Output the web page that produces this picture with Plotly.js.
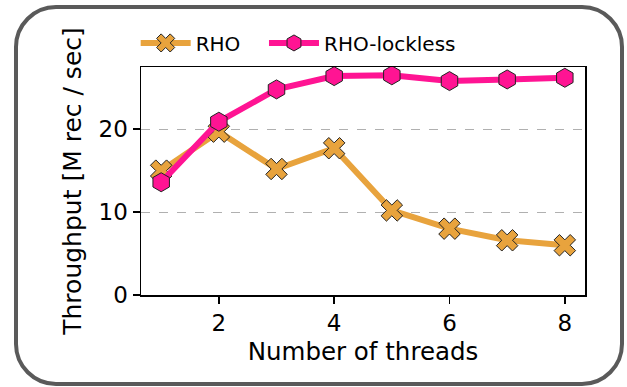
<!DOCTYPE html>
<html>
<head>
<meta charset="utf-8">
<script src="https://cdn.plot.ly/plotly-3.0.1.min.js"></script>
<style>
html,body{margin:0;padding:0;background:#fff;}
#wrap{position:relative;width:627px;height:387px;}
#frame{position:absolute;left:14px;top:5px;width:602px;height:373px;border:4px solid #5a5a5a;border-radius:42px;box-sizing:content-box;}
#chart{position:absolute;left:0;top:0;width:627px;height:387px;}
</style>
</head>
<body>
<div id="wrap"><div id="frame"></div><div id="chart"></div></div>
<script>
const threads = [1, 2, 3, 4, 5, 6, 7, 8];
const rho = [15.0, 19.7, 15.2, 17.7, 10.2, 8.0, 6.6, 6.0];
const rhoLockless = [13.6, 20.9, 24.8, 26.4, 26.5, 25.8, 26.0, 26.2];
const seriesNames = ['RHO', 'RHO-lockless'];
const xTicks = [2, 4, 6, 8];
const yTicks = [0, 10, 20];

const font = {family: 'DejaVu Sans, sans-serif', color: '#000'};

const traces = [
  {
    x: threads, y: rho, name: seriesNames[0], type: 'scatter', mode: 'lines+markers',
    line: {color: '#e8a33d', width: 6},
    marker: {symbol: 'x', size: 19, color: '#e8a33d', line: {color: '#222', width: 1}},
    legend: 'legend'
  },
  {
    x: threads, y: rhoLockless, name: seriesNames[1], type: 'scatter', mode: 'lines+markers',
    line: {color: '#ff1493', width: 6},
    marker: {symbol: 'hexagon', size: 19, color: '#ff1493', line: {color: '#222', width: 1}},
    legend: 'legend2'
  }
];

const legendBase = {orientation: 'h', y: 1.02, xanchor: 'left', yanchor: 'bottom',
  font: Object.assign({size: 20}, font), bgcolor: 'rgba(0,0,0,0)', itemwidth: 50};

const layout = {
  width: 627, height: 387,
  paper_bgcolor: 'rgba(0,0,0,0)', plot_bgcolor: 'rgba(0,0,0,0)',
  margin: {l: 141, r: 42, t: 67, b: 92},
  font: Object.assign({size: 23}, font),
  showlegend: true,
  legend: Object.assign({x: -0.012}, legendBase),
  legend2: Object.assign({x: 0.277}, legendBase),
  xaxis: {
    range: [0.65, 8.35], tickvals: xTicks, ticktext: xTicks.map(String),
    ticks: 'outside', ticklen: 7, tickwidth: 1.5, tickcolor: '#000',
    showline: true, linecolor: '#000', linewidth: 1.5, mirror: true,
    showgrid: false, zeroline: false,
    tickfont: Object.assign({size: 23}, font),
    title: {text: 'Number of threads', font: Object.assign({size: 24.5}, font), standoff: 8}
  },
  yaxis: {
    range: [0, 27.5], tickvals: yTicks, ticktext: yTicks.map(String),
    ticks: 'outside', ticklen: 7, tickwidth: 1.5, tickcolor: '#000',
    showline: true, linecolor: '#000', linewidth: 1.5, mirror: true,
    showgrid: true, gridcolor: '#b0b0b0', griddash: 'dash', gridwidth: 1,
    zeroline: false,
    tickfont: Object.assign({size: 23}, font),
    title: {text: 'Throughput [M rec / sec]', font: Object.assign({size: 25}, font), standoff: 10}
  }
};

Plotly.newPlot('chart', traces, layout, {displayModeBar: false, staticPlot: true});
</script>
</body>
</html>
